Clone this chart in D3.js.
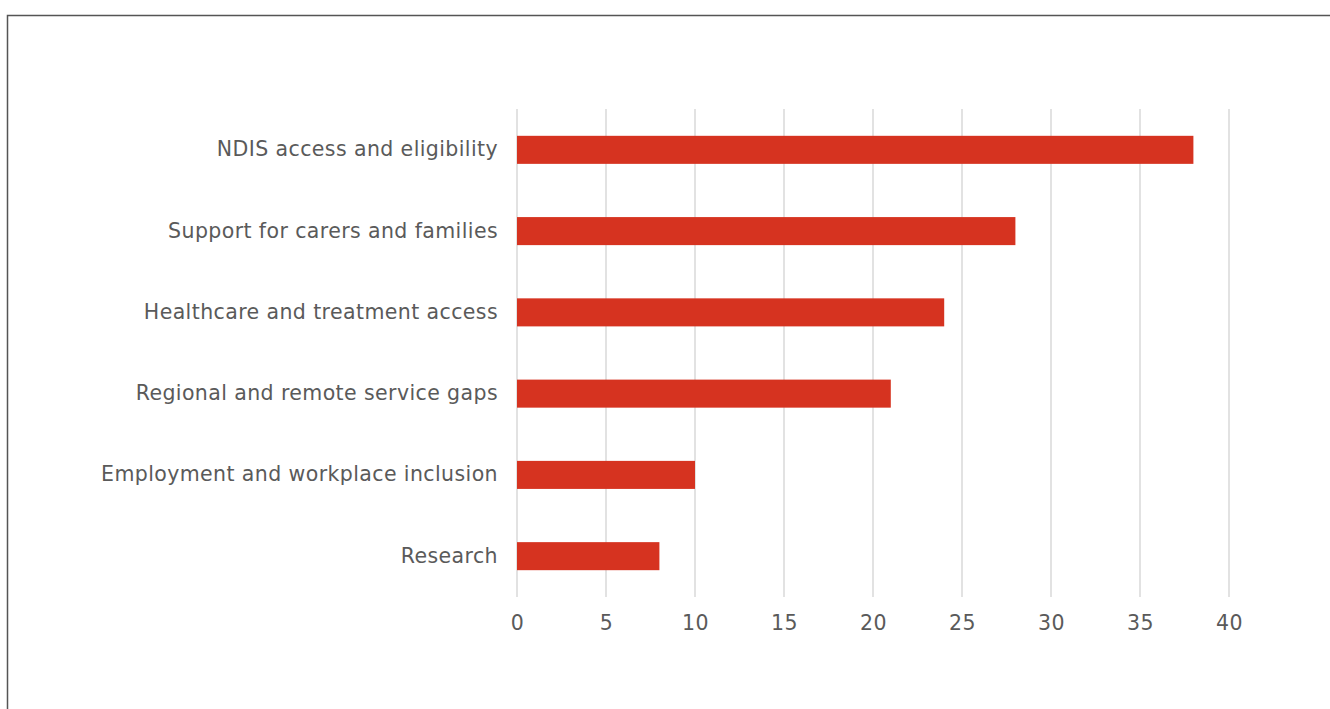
<!DOCTYPE html>
<html>
<head>
<meta charset="utf-8">
<script src="https://cdn.jsdelivr.net/npm/d3@7"></script>
<style>
  html, body { margin: 0; padding: 0; background: #fff; }
  svg { display: block; }
</style>
</head>
<body>
<svg id="chart" width="1330" height="709"></svg>
<script>
const categories = [
  "NDIS access and eligibility",
  "Support for carers and families",
  "Healthcare and treatment access",
  "Regional and remote service gaps",
  "Employment and workplace inclusion",
  "Research"
];
const values = [38, 28, 24, 21, 10, 8];
const tickValues = [0, 5, 10, 15, 20, 25, 30, 35, 40];

const svg = d3.select("#chart");
const W = 1330, H = 709;
const margin = { left: 517, right: 101, top: 109, bottom: 112 };
const font = "'DejaVu Sans', 'Noto Sans', sans-serif";
const textColor = "#5a5a5a";

// frame
svg.append("path")
  .attr("d", `M7.5,${H} V15.5 H${W}`)
  .attr("fill", "none")
  .attr("stroke", "#555")
  .attr("stroke-width", 1.5);

const x = d3.scaleLinear().domain([0, 40]).range([margin.left, W - margin.right]);
const y = d3.scaleBand().domain(categories).range([margin.top, H - margin.bottom]).paddingInner(0.655).paddingOuter(0.33);

// vertical gridlines
svg.append("g").selectAll("line").data(tickValues).join("line")
  .attr("x1", d => x(d)).attr("x2", d => x(d))
  .attr("y1", margin.top).attr("y2", H - margin.bottom)
  .attr("stroke", "#d9d9d9").attr("stroke-width", 1.5);

// bars
svg.append("g").selectAll("rect").data(values).join("rect")
  .attr("x", x(0))
  .attr("y", (d, i) => y(categories[i]))
  .attr("width", d => x(d) - x(0))
  .attr("height", y.bandwidth())
  .attr("fill", "#d63320");

// x axis labels
const xAxis = d3.axisBottom(x).tickValues(tickValues).tickSize(0).tickPadding(0);
const gx = svg.append("g").attr("transform", `translate(0,${H - margin.bottom + 26})`).call(xAxis);
gx.select(".domain").remove();
gx.selectAll("text")
  .attr("font-family", font).attr("font-size", 20.5).attr("fill", textColor)
  .attr("letter-spacing", 0.5)
  .attr("dy", "0.35em").attr("y", 0);

// y axis labels
const yAxis = d3.axisLeft(y).tickSize(0).tickPadding(19);
const gy = svg.append("g").attr("transform", `translate(${margin.left},0)`).call(yAxis);
gy.select(".domain").remove();
gy.selectAll("text")
  .attr("font-family", font).attr("font-size", 20.5).attr("fill", textColor)
  .attr("letter-spacing", 0.4);
</script>
</body>
</html>
